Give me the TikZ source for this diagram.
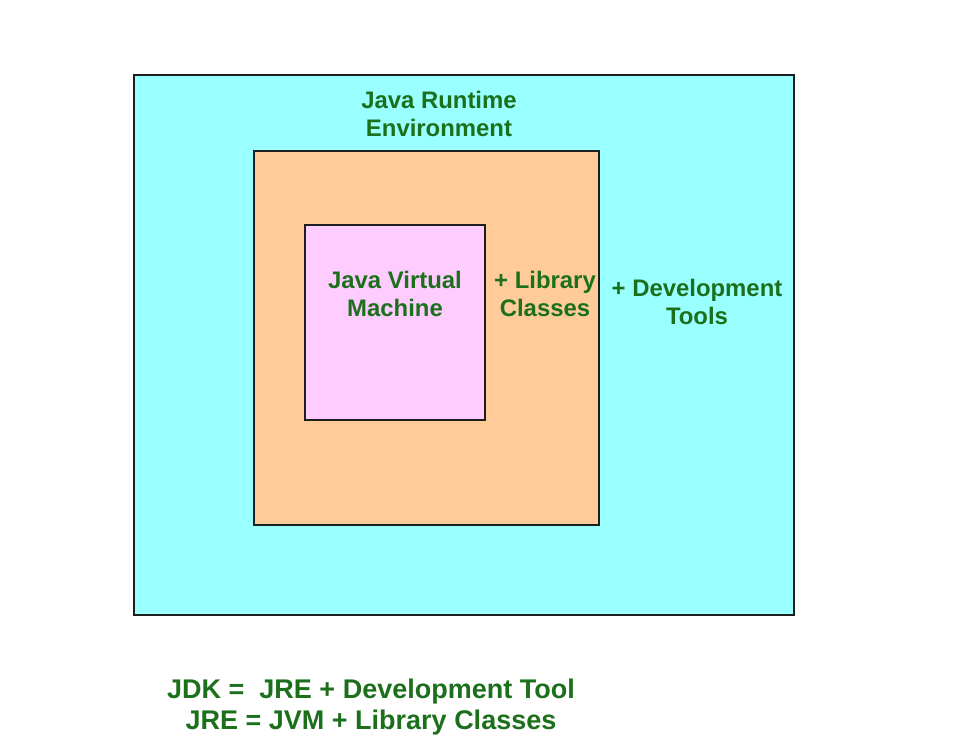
\documentclass[tikz,border=0pt]{standalone}
\usepackage{fontspec}
\setmainfont{Liberation Sans}
\definecolor{jcyan}{RGB}{153,255,255}
\definecolor{jorange}{RGB}{255,204,153}
\definecolor{jpink}{RGB}{255,204,255}
\definecolor{jgreen}{RGB}{28,112,28}
\definecolor{jline}{RGB}{30,30,30}
\begin{document}
\begin{tikzpicture}[x=1pt,y=-1pt,
  box/.style={draw=jline,line width=2.5pt},
  lbl/.style={text=jgreen,font=\fontsize{23.9}{28}\selectfont\bfseries,align=center,inner sep=0pt},
  big/.style={text=jgreen,font=\fontsize{27}{30.5}\selectfont\bfseries,align=center,inner sep=0pt}]
\useasboundingbox (0,0) rectangle (955,749);
\fill[white] (0,0) rectangle (955,749);
\draw[box,fill=jcyan] (134,75) rectangle (794,615);
\draw[box,fill=jorange] (254,151) rectangle (599,525);
\draw[box,fill=jpink] (305,225) rectangle (485,420);
\node[lbl] (jre) at (439,114) {Java Runtime\\Environment};
\node[lbl] (jvm) at (395,294) {Java Virtual\\Machine};
\node[lbl] (lib) at (545,294) {+ Library\\Classes};
\node[lbl] (dev) at (697,302) {+ Development\\Tools};
\node[big] (eq) at (371,707) {JDK =\ \ JRE + Development Tool\\JRE = JVM + Library Classes};
\end{tikzpicture}
\end{document}
